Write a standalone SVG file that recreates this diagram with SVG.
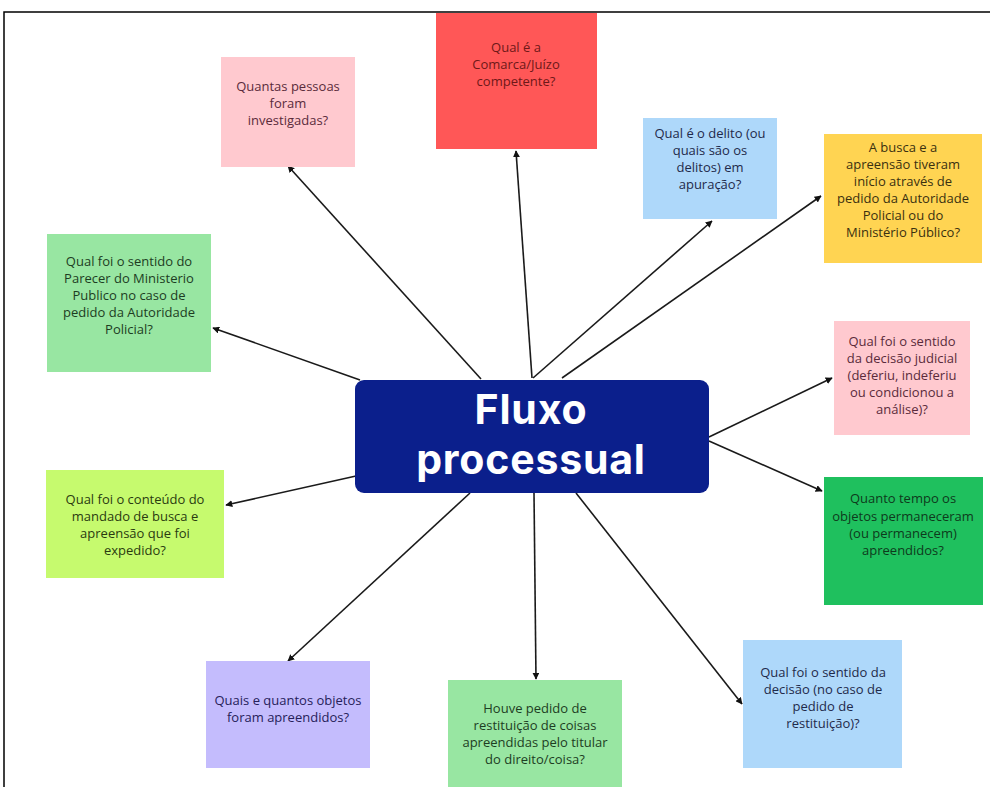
<svg xmlns="http://www.w3.org/2000/svg" width="990" height="787" viewBox="0 0 990 787">
<defs>
<marker id="ah" viewBox="0 0 10 10" refX="9" refY="5" markerWidth="7" markerHeight="7" orient="auto" markerUnits="userSpaceOnUse">
<path d="M0,0 L10,5 L0,10 z" fill="#111"/>
</marker>
<style>
.t{font-family:"Open Sans","Liberation Sans",sans-serif;font-size:13px;text-anchor:middle}
.c{stroke:#1a1a1a;stroke-width:1.6;fill:none;marker-end:url(#ah)}
.h{font-family:Inter,"Liberation Sans",sans-serif;font-weight:700;font-size:41px;letter-spacing:0.8px;fill:#fff;text-anchor:middle}
</style>
</defs>
<rect width="990" height="787" fill="#fff"/>
<path d="M4,787 V12 H990" fill="none" stroke="#000" stroke-width="1.5"/>
<g id="connectors">
<line class="c" x1="481" y1="379" x2="288" y2="166"/>
<line class="c" x1="532" y1="378" x2="516" y2="151"/>
<line class="c" x1="533" y1="378" x2="712" y2="221"/>
<line class="c" x1="562" y1="378" x2="821" y2="196"/>
<line class="c" x1="360" y1="380" x2="213" y2="328"/>
<line class="c" x1="709" y1="437" x2="832" y2="378"/>
<line class="c" x1="356" y1="476" x2="226" y2="505"/>
<line class="c" x1="709" y1="441" x2="822" y2="491"/>
<line class="c" x1="470" y1="493" x2="288" y2="661"/>
<line class="c" x1="534" y1="493" x2="536" y2="679"/>
<line class="c" x1="576" y1="493" x2="742" y2="704"/>
</g>
<g id="n1">
<rect x="221" y="57" width="134" height="110" fill="#FFC9CF"/>
<text class="t" fill="#5a2b3b"><tspan x="288" y="91">Quantas pessoas</tspan><tspan x="288" y="108">foram</tspan><tspan x="288" y="125">investigadas?</tspan></text>
</g>
<g id="n2">
<rect x="436" y="13" width="161" height="136" fill="#FF5757"/>
<text class="t" fill="#6e1818"><tspan x="516" y="52">Qual é a</tspan><tspan x="516" y="69">Comarca/Juízo</tspan><tspan x="516" y="86">competente?</tspan></text>
</g>
<g id="n3">
<rect x="643" y="118" width="134" height="101" fill="#AED8FA"/>
<text class="t" fill="#1f2a4a"><tspan x="710" y="138">Qual é o delito (ou</tspan><tspan x="710" y="155">quais são os</tspan><tspan x="710" y="172">delitos) em</tspan><tspan x="710" y="189">apuração?</tspan></text>
</g>
<g id="n4">
<rect x="824" y="134" width="158" height="129" fill="#FFD452"/>
<text class="t" fill="#3a3010"><tspan x="903" y="152">A busca e a</tspan><tspan x="903" y="169">apreensão tiveram</tspan><tspan x="903" y="186">início através de</tspan><tspan x="903" y="203">pedido da Autoridade</tspan><tspan x="903" y="220">Policial ou do</tspan><tspan x="903" y="237">Ministério Público?</tspan></text>
</g>
<g id="n5">
<rect x="47" y="234" width="164" height="138" fill="#98E6A2"/>
<text class="t" fill="#1d3d22"><tspan x="129" y="266">Qual foi o sentido do</tspan><tspan x="129" y="283">Parecer do Ministerio</tspan><tspan x="129" y="300">Publico no caso de</tspan><tspan x="129" y="317">pedido da Autoridade</tspan><tspan x="129" y="334">Policial?</tspan></text>
</g>
<g id="n6">
<rect x="834" y="321" width="136" height="114" fill="#FFC9CF"/>
<text class="t" fill="#5a2b3b"><tspan x="902" y="346">Qual foi o sentido</tspan><tspan x="902" y="363">da decisão judicial</tspan><tspan x="902" y="380">(deferiu, indeferiu</tspan><tspan x="902" y="397">ou condicionou a</tspan><tspan x="902" y="414">análise)?</tspan></text>
</g>
<g id="center">
<rect x="355" y="380" width="354" height="113" rx="9" fill="#0B1F8C"/>
<text class="h" x="531" y="424">Fluxo</text>
<text class="h" x="531" y="474">processual</text>
</g>
<g id="n7">
<rect x="46" y="470" width="178" height="108" fill="#C6FA6E"/>
<text class="t" fill="#2a3a10"><tspan x="135" y="504">Qual foi o conteúdo do</tspan><tspan x="135" y="521">mandado de busca e</tspan><tspan x="135" y="538">apreensão que foi</tspan><tspan x="135" y="555">expedido?</tspan></text>
</g>
<g id="n8">
<rect x="824" y="477" width="159" height="128" fill="#1FC05E"/>
<text class="t" fill="#0e3a1c"><tspan x="903" y="503">Quanto tempo os</tspan><tspan x="903" y="521">objetos permaneceram</tspan><tspan x="903" y="538">(ou permanecem)</tspan><tspan x="903" y="555">apreendidos?</tspan></text>
</g>
<g id="n9">
<rect x="206" y="661" width="164" height="107" fill="#C4BCFD"/>
<text class="t" fill="#26215a"><tspan x="288" y="705">Quais e quantos objetos</tspan><tspan x="288" y="722">foram apreendidos?</tspan></text>
</g>
<g id="n10">
<rect x="448" y="680" width="174" height="107" fill="#98E6A2"/>
<text class="t" fill="#1d3d22"><tspan x="535" y="713">Houve pedido de</tspan><tspan x="535" y="730">restituição de coisas</tspan><tspan x="535" y="747">apreendidas pelo titular</tspan><tspan x="535" y="764">do direito/coisa?</tspan></text>
</g>
<g id="n11">
<rect x="743" y="640" width="159" height="128" fill="#AED8FA"/>
<text class="t" fill="#1f2a4a"><tspan x="823" y="677">Qual foi o sentido da</tspan><tspan x="823" y="694">decisão (no caso de</tspan><tspan x="823" y="711">pedido de</tspan><tspan x="823" y="728">restituição)?</tspan></text>
</g>
</svg>
